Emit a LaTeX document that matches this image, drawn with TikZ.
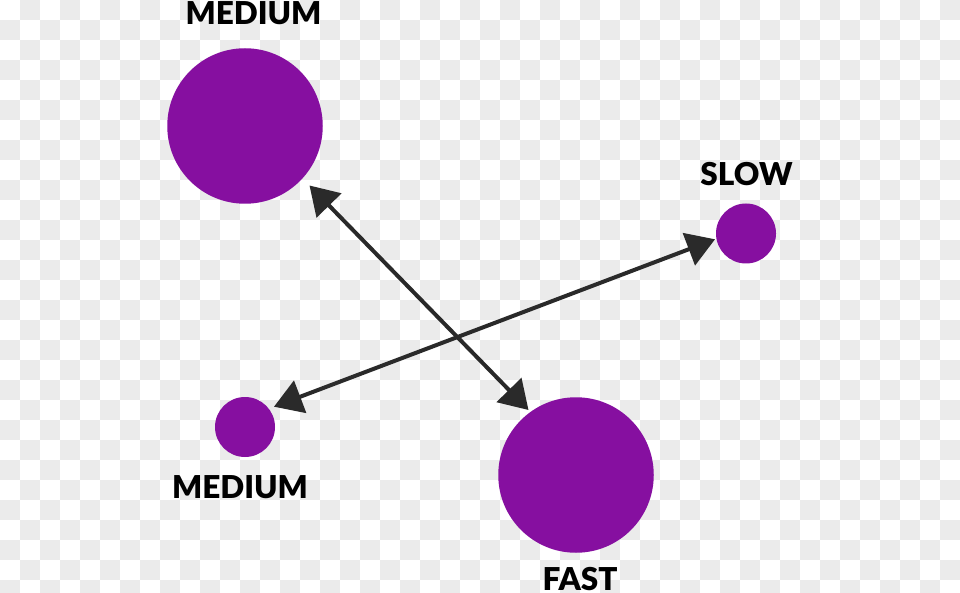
\documentclass[tikz,border=0pt]{standalone}
\usepackage{fontspec}
\setmainfont{Lato}[BoldFont={Lato Black}]
\usetikzlibrary{arrows.meta}
\definecolor{dot}{RGB}{134,15,160}
\definecolor{ink}{RGB}{42,42,42}
\definecolor{chk}{RGB}{235,235,235}
\tikzset{
  dotnode/.style={circle,fill=dot,inner sep=0pt,outer sep=0pt,minimum size=#1},
  lbl/.style={anchor=base,font=\bfseries\fontsize{31.5}{31.5}\selectfont,text=black,inner sep=0pt},
  link/.style={ink,line width=4pt,{Triangle[length=28pt,width=34pt]}-{Triangle[length=28pt,width=34pt]}}
}
\begin{document}
\begin{tikzpicture}[x=1pt,y=-1pt]
\useasboundingbox (0,0) rectangle (960,593);
\fill[white] (0,0) rectangle (960,593);
\begin{scope}
\clip (0,0) rectangle (960,593);
\foreach \i in {0,...,47}{
  \foreach \j in {0,...,29}{
    \pgfmathtruncatemacro{\odd}{mod(\i+\j,2)}
    \ifnum\odd=1 \fill[chk] (\i*20,\j*20) rectangle ++(20,20);\fi
  }
}
\end{scope}
\node[dotnode=155.5pt] (mtop) at (245,126) {};
\node[dotnode=60pt] (slow) at (746,233.5) {};
\node[dotnode=60pt] (mbot) at (245,427) {};
\node[dotnode=155.5pt] (fast) at (576,475) {};
\node[lbl] (lmtop) at (253.5,25) {MEDIUM};
\node[lbl] (lslow) at (746.5,186) {SLOW};
\node[lbl] (lmbot) at (240,498.5) {MEDIUM};
\node[lbl] (lfast) at (580,590) {FAST};
\coordinate (a1) at (309.5,185.5);
\coordinate (b1) at (528.5,410);
\coordinate (a2) at (274,406.7);
\coordinate (b2) at (715,239.3);
\draw[link] (a1) -- (b1);
\draw[link] (a2) -- (b2);
\end{tikzpicture}
\end{document}
